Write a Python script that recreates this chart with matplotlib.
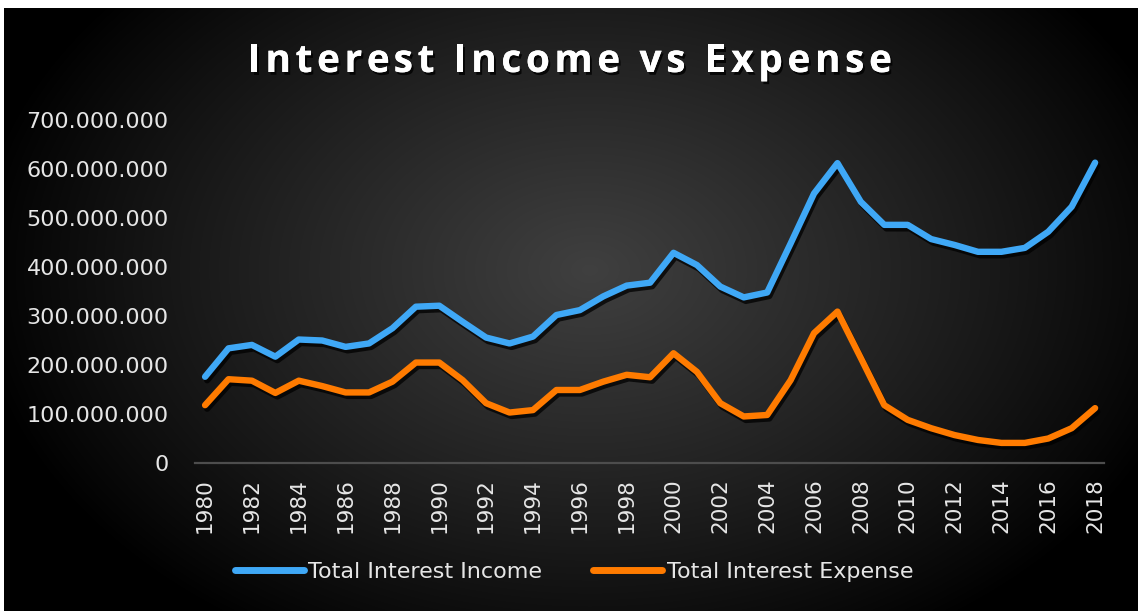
import numpy as np
import matplotlib.pyplot as plt
import matplotlib.patheffects as pe
from matplotlib.lines import Line2D
from matplotlib.font_manager import FontProperties
from matplotlib.ticker import FuncFormatter

# data in millions
years = list(range(1980, 2019))
income = [176, 234, 241, 217, 252, 250, 237, 244, 275, 319, 321, 288, 256,
          244, 258, 302, 312, 340, 362, 368, 429, 404, 360, 338, 348, 448,
          550, 612, 533, 486, 486, 457, 445, 431, 431, 439, 472, 523, 613]
expense = [118, 171, 168, 143, 168, 157, 144, 144, 166, 205, 205, 169, 122,
           103, 108, 149, 149, 166, 180, 175, 224, 186, 122, 95, 98, 169,
           265, 309, 214, 118, 88, 71, 57, 47, 41, 41, 50, 71, 112]
title = 'Interest Income vs Expense'
labels = ['Total Interest Income', 'Total Interest Expense']

BLUE = '#3fa8f6'
ORANGE = '#ff7b00'
label_font = ['DejaVu Sans']

W, H = 1138, 611
fig = plt.figure(figsize=(W / 100, H / 100), dpi=100)
fig.patch.set_facecolor('white')

# radial dark background
bg = fig.add_axes([4 / W, 0, 1 - 4 / W, 1 - 8 / H], zorder=-5)
gx, gy = np.meshgrid(np.linspace(4, W, 600), np.linspace(8, H, 320))
r = np.sqrt(((gx - 590) / 620) ** 2 + ((gy - 270) / 430) ** 2)
shade = 0.25 * np.clip(1 - r, 0, 1) ** 0.9
bg.imshow(np.dstack([shade] * 3), extent=[0, 1, 0, 1], aspect='auto',
          interpolation='bilinear')
bg.axis('off')

ax = fig.add_axes([195 / W, 148 / H, 909 / W, 343 / H])
ax.patch.set_alpha(0)

shadow = [pe.SimpleLineShadow(offset=(1.5, -2.5), shadow_color='black',
                              alpha=0.75), pe.Normal()]
ax.plot(years, np.array(income) * 1e6, color=BLUE, lw=4.6,
        solid_joinstyle='round', solid_capstyle='round', path_effects=shadow)
ax.plot(years, np.array(expense) * 1e6, color=ORANGE, lw=4.6,
        solid_joinstyle='round', solid_capstyle='round', path_effects=shadow)

ax.set_xlim(1979.57, 2018.38)
ax.set_ylim(0, 700e6)
ax.set_yticks(np.arange(0, 700e6 + 1, 100e6))
ax.yaxis.set_major_formatter(
    FuncFormatter(lambda v, p: f'{int(v):,}'.replace(',', '.')))
ax.set_xticks(years[::2])
ax.tick_params(axis='y', length=0, pad=19, labelsize=16, colors='#e6e6e6')
ax.tick_params(axis='x', length=0, pad=11, labelsize=15.5, colors='#e6e6e6',
               labelrotation=90)
for lab in ax.get_xticklabels() + ax.get_yticklabels():
    lab.set_family(label_font)
for s in ['top', 'right', 'left']:
    ax.spines[s].set_visible(False)
ax.spines['bottom'].set_color('#4d4d4d')
ax.spines['bottom'].set_linewidth(1.6)

# title with letter spacing, drawn one glyph at a time
fp = FontProperties(family=['Open Sans', 'DejaVu Sans'], weight='bold',
                    size=28)
fig.canvas.draw()
rend = fig.canvas.get_renderer()


def text_w(s):
    return rend.get_text_width_height_descent(s, fp, ismath=False)[0]


ref = text_w('I')
offsets = [text_w(title[:i] + 'I') - ref if i else 0 for i in range(len(title))]
natural = text_w(title)
target_left, target_right = 248, 892
spacing = (target_right - target_left - natural) / (len(title) - 1)
title_fx = [pe.withSimplePatchShadow(offset=(1.5, -2), shadow_rgbFace='black',
                                     alpha=0.8), pe.Normal()]
for i, ch in enumerate(title):
    if ch == ' ':
        continue
    x = target_left + offsets[i] + i * spacing
    fig.text(x / W, (H - 72) / H, ch, fontproperties=fp, color='white',
             ha='left', va='baseline', path_effects=title_fx)

handles = [Line2D([], [], color=BLUE, lw=5, solid_capstyle='round'),
           Line2D([], [], color=ORANGE, lw=5, solid_capstyle='round')]
leg = fig.legend(handles, labels, loc='center', bbox_to_anchor=(574 / W, 39 / H),
                 ncol=2, frameon=False, handlelength=3.1, handletextpad=0.2,
                 columnspacing=2.3, prop=FontProperties(family=label_font, size=16))
for t in leg.get_texts():
    t.set_color('#e6e6e6')

fig.savefig('out.png', dpi=100, facecolor=fig.get_facecolor())
